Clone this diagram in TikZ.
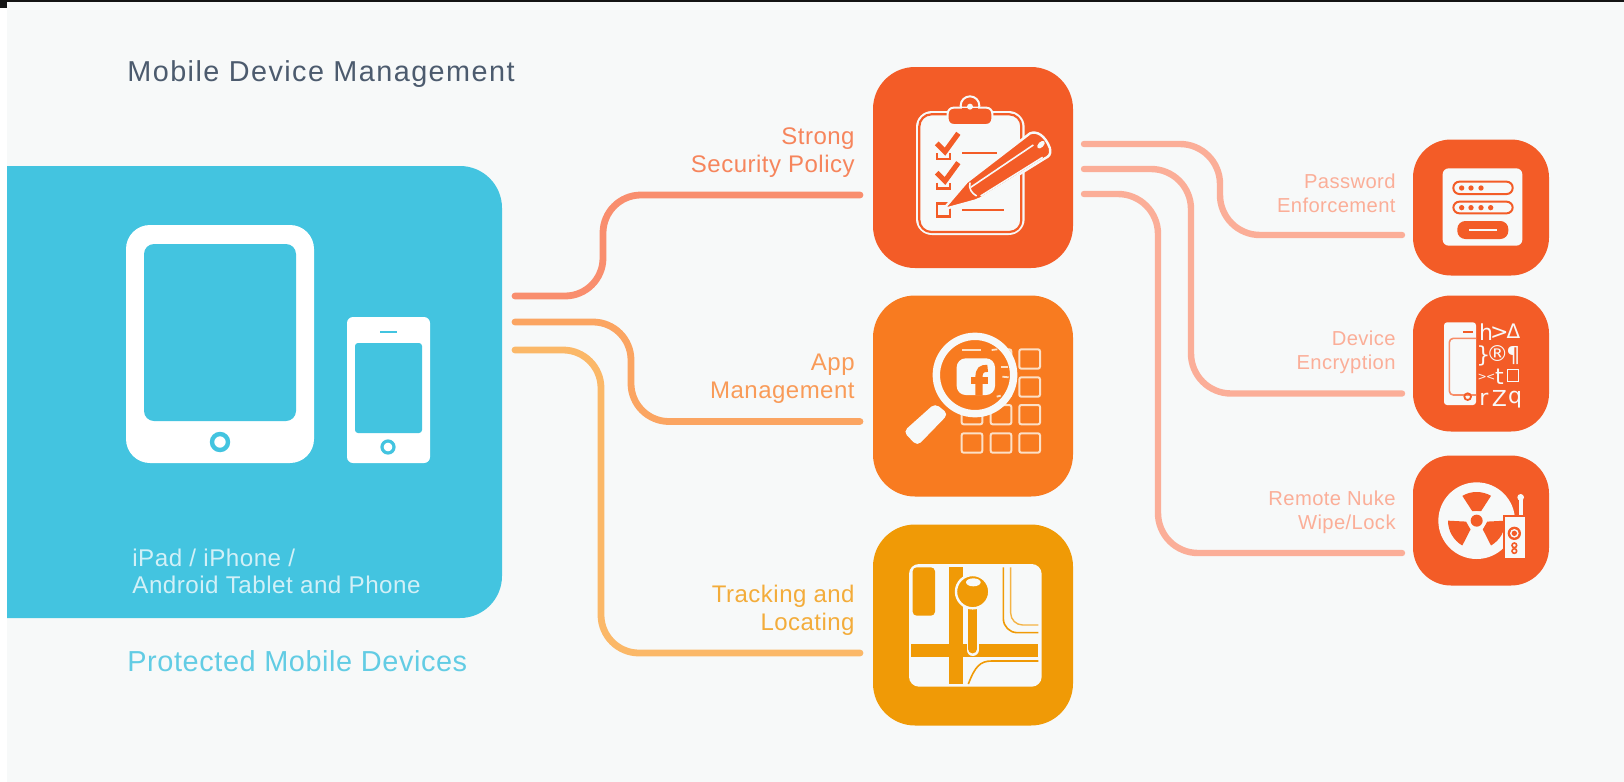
\documentclass[tikz,border=0pt]{standalone}
\usepackage{fontspec}
\setmainfont[LetterSpace=2]{Liberation Sans}
\newfontfamily\titlefont[LetterSpace=5]{Liberation Sans}
\newfontfamily\glyphfont{DejaVu Sans}
\definecolor{bgc}{HTML}{F7F9F9}
\definecolor{bluec}{HTML}{43C4E0}
\definecolor{redc}{HTML}{F35C27}
\definecolor{orgc}{HTML}{F87B20}
\definecolor{yelc}{HTML}{F09A06}
\definecolor{lnA}{HTML}{F98E6E}
\definecolor{lnB}{HTML}{FBA562}
\definecolor{lnC}{HTML}{FBB868}
\definecolor{lnR}{HTML}{FBAE98}
\definecolor{txtA}{HTML}{F6855C}
\definecolor{txtB}{HTML}{F99B58}
\definecolor{txtC}{HTML}{F3AC3A}
\definecolor{titlec}{HTML}{4C5B6E}
\definecolor{protc}{HTML}{62CCE4}
\definecolor{captc}{HTML}{D2F0F7}
\definecolor{gridc}{HTML}{FCE0C6}
\tikzset{
 bigbox/.style={rounded corners=21pt,inner sep=0pt,minimum width=100pt,minimum height=100.5pt,draw=none},
 smallbox/.style={rounded corners=19pt,fill=redc,inner sep=0pt,minimum width=68pt,minimum height=68pt,draw=none},
 wire/.style={line width=3.4pt,rounded corners=19pt,line cap=round},
 wireR/.style={line width=3.2pt,rounded corners=20pt,line cap=round,draw=lnR},
 lblbig/.style={anchor=east,align=right,inner sep=0pt,font=\fontsize{12}{14}\selectfont},
 lblsmall/.style={anchor=east,align=right,inner sep=0pt,text=lnR,font=\fontsize{10.1}{11.9}\selectfont},
 glyph/.style={text=bgc,inner sep=0pt,font=\glyphfont\fontsize{11}{11}\selectfont},
}
\begin{document}
\begin{tikzpicture}[x=0.5pt,y=-0.5pt]
\useasboundingbox (0,0) rectangle (1624,782);
\fill[white] (0,0) rectangle (1624,782);
\fill[bgc] (7,2) rectangle (1624,782);
\fill[black!92] (0,0) rectangle (1624,2);
\fill[black!92] (0,0) rectangle (7,8);

% device panel
\fill[bluec] (7,166) [rounded corners=21pt] -- (502,166) -- (502,618) [sharp corners] -- (7,618) -- cycle;
\fill[white,rounded corners=12pt] (126,225) rectangle (314,463);
\fill[bluec,rounded corners=5pt] (144,244) rectangle (296,421);
\draw[bluec,line width=2.2pt,fill=white] (220,442) circle (8);
\fill[white,rounded corners=3pt] (347,317) rectangle (430,463);
\fill[bluec,rounded corners=1.5pt] (355,343) rectangle (422,433);
\draw[bluec,line width=1pt] (380,332) -- (397,332);
\draw[bluec,line width=1.6pt,fill=white] (388,447) circle (6);

\node[anchor=west,inner sep=0pt,text=titlec,font=\titlefont\fontsize{14.4}{16}\selectfont] (title) at (127,74.5) {Mobile Device Management};
\node[anchor=west,inner sep=0pt,align=left,text=captc,font=\fontsize{12.1}{13.8}\selectfont] (caption) at (132,571.5) {iPad / iPhone /\\Android Tablet and Phone};
\node[anchor=west,inner sep=0pt,text=protc,font=\fontsize{14.45}{16}\selectfont] (protected) at (127,661.5) {Protected Mobile Devices};

% boxes
\node[bigbox,fill=redc] (policy) at (973,167.5) {};
\node[bigbox,fill=orgc] (apps) at (973,396) {};
\node[bigbox,fill=yelc] (track) at (973,625) {};
\node[smallbox] (pwd) at (1481,207.5) {};
\node[smallbox] (enc) at (1481,363.5) {};
\node[smallbox,minimum height=65pt] (nuke) at (1481,520.5) {};

% connector ends
\coordinate (d1) at (515,296);
\coordinate (d2) at (515,322);
\coordinate (d3) at (515,350);
\coordinate (p1) at (860,195);
\coordinate (p2) at (860,421.5);
\coordinate (p3) at (860,653);
\coordinate (s1) at (1084,144);
\coordinate (s2) at (1084,169);
\coordinate (s3) at (1084,194);
\coordinate (e1) at (1402,235);
\coordinate (e2) at (1402,393.5);
\coordinate (e3) at (1402,553);
\draw[wire,draw=lnA] (d1) -- (603,296) -- (603,195) -- (p1);
\draw[wire,draw=lnB] (d2) -- (631,322) -- (631,421.5) -- (p2);
\draw[wire,draw=lnC] (d3) -- (601,350) -- (601,653) -- (p3);
\draw[wireR] (s1) -- (1220,144) -- (1220,235) -- (e1);
\draw[wireR] (s2) -- (1191,169) -- (1191,393.5) -- (e2);
\draw[wireR] (s3) -- (1158,194) -- (1158,553) -- (e3);

% labels
\node[lblbig,text=txtA] (l1) at (855,152.5) {Strong\\Security Policy};
\node[lblbig,text=txtB] (l2) at (855,378.5) {App\\Management};
\node[lblbig,text=txtC] (l3) at (855,610.5) {Tracking and\\Locating};
\node[lblsmall] (r1) at (1396,193.5) {Password\\Enforcement};
\node[lblsmall] (r2) at (1396,352.5) {Device\\Encryption};
\node[lblsmall] (r3) at (1396,512.5) {Remote Nuke\\Wipe/Lock};

% policy icon
\begin{scope}[shift={(860,60)},scale=1/3]
\fill[bgc,rounded corners=8pt] (168,153) rectangle (494,525);
\draw[redc,line width=1.1pt,rounded corners=6pt] (178,163) rectangle (484,516);
\draw[bgc,line width=1pt,fill=redc] (330,137) circle (28);
\draw[bgc,line width=1pt,fill=redc,rounded corners=3pt] (263,143) rectangle (397,195);
\fill[redc] (305,143) rectangle (355,150);
\fill[bgc] (330,140) circle (9);
\foreach \dy in {0,88}{
 \draw[redc,line width=2.6pt] (230,250+\dy) -- (255,275+\dy) -- (295,220+\dy);
 \draw[redc,line width=1.3pt] (231,280+\dy) -- (231,297+\dy) -- (270,297+\dy) -- (270,280+\dy);
}
\draw[redc,line width=1.3pt] (231,430) rectangle (270,470);
\draw[redc,line width=1.1pt] (306,280) -- (410,280);
\draw[redc,line width=1.1pt] (306,450) -- (432,450);
\draw[bgc,line width=1.2pt,fill=redc,line join=round] (250,448) -- (320,366) -- (510,220) .. controls (530,212) and (555,225) .. (570,265) .. controls (574,285) and (565,290) .. (555,295) -- (362,415) -- (345,422) -- cycle;
\draw[bgc,line width=0.8pt] (332,382) -- (520,255);
\draw[bgc,line width=0.8pt] (350,408) .. controls (335,400) and (325,385) .. (330,368);
\draw[bgc,line width=0.8pt] (362,408) -- (548,292);
\fill[bgc,rotate around={45:(543,254)}] (543,254) ellipse (14 and 8);
\end{scope}

% apps icon
\begin{scope}[shift={(860,290)},scale=1/3]
\foreach \xa in {305,392,478}{\foreach \ya in {178,262,345,430}{
 \draw[gridc,line width=1pt,rounded corners=1pt] (\xa,\ya) rectangle +(62,58);
}}
\fill[bgc,rounded corners=2.5pt] (130,425) -- (225,340) -- (265,372) -- (172,468) -- cycle;
\draw[bgc,line width=3.7pt,fill=orgc] (345,255) circle (116);
\draw[gridc,line width=0.9pt] (307,180) -- (362,180);
\draw[gridc,line width=0.9pt] (395,180) -- (412,178);
\draw[gridc,line width=0.9pt] (423,232) -- (445,232);
\draw[gridc,line width=0.9pt] (427,260) -- (446,262);
\draw[gridc,line width=0.9pt] (410,320) -- (422,317);
\fill[bgc,rounded corners=4.5pt] (290,205) rectangle (405,315);
\draw[orgc,line width=3.6pt] (357,316) -- (357,262) .. controls (357,240) and (365,235) .. (383,235);
\fill[orgc] (332,262) rectangle (383,282);
\end{scope}

% track icon
\begin{scope}[shift={(860,520)},scale=1/3]
\fill[bgc,rounded corners=5pt] (147,132) rectangle (545,500);
\fill[yelc,rounded corners=2pt] (158,142) rectangle (225,287);
\fill[yelc] (268,142) rectangle (310,492);
\fill[yelc] (153,373) rectangle (535,412);
\draw[yelc,line width=0.8pt,rounded corners=7pt] (430,142) -- (430,338) -- (535,338);
\draw[yelc!75!white,line width=0.7pt,rounded corners=6pt] (452,142) -- (452,315) -- (535,315);
\draw[yelc,line width=0.8pt] (325,492) .. controls (345,440) and (360,423) .. (395,423) -- (535,423);
\draw[bgc,line width=6pt,line cap=round] (338,240) -- (338,390);
\draw[yelc,line width=4.4pt,line cap=round] (338,250) -- (338,387);
\draw[bgc,line width=1.2pt,fill=yelc] (338,215) circle (50);
\fill[bgc] (340,187) ellipse (22 and 12);
\end{scope}

% password icon
\begin{scope}[shift={(1400,130)},scale=1/3]
\fill[bgc,rounded corners=3pt] (128,115) rectangle (367,347);
\draw[redc,line width=1pt,rounded corners=3pt] (160,155) rectangle (338,192);
\draw[redc,line width=1pt,rounded corners=3pt] (160,215) rectangle (338,250);
\foreach \xd in {185,213,243}{\fill[redc] (\xd,174) circle (8);}
\foreach \xd in {185,213,243,272}{\fill[redc] (\xd,233) circle (8);}
\fill[redc,rounded corners=4pt] (172,273) rectangle (325,327);
\draw[bgc,line width=1.1pt] (208,299) -- (292,299);
\end{scope}

% encryption icon
\begin{scope}[shift={(1400,290)},scale=1/3]
\fill[bgc,rounded corners=1.5pt] (132,97) rectangle (228,345);
\draw[redc!70!white,line width=0.8pt,rounded corners=2pt] (228,145) -- (148,145) -- (148,315) -- (228,315);
\draw[redc,line width=0.9pt] (190,127) -- (218,127);
\draw[redc,line width=0.9pt] (203,320) circle (10);
\node[glyph] (g1) at (258,126) {h};
\node[glyph] (g2) at (298,128) {>};
\node[glyph] (g3) at (340,124) {\fontsize{10}{10}\selectfont Δ};
\node[glyph] (g4) at (250,197) {\}};
\node[glyph] (g5) at (292,190) {®};
\node[glyph] (g6) at (340,197) {¶};
\node[glyph] (g7) at (247,263) {\fontsize{5.5}{6}\selectfont >};
\node[glyph] (g8) at (272,263) {\fontsize{5.5}{6}\selectfont <};
\node[glyph] (g9) at (298,260) {t};
\draw[bgc,line width=0.8pt] (323,238) rectangle (356,275);
\node[glyph] (g10) at (252,327) {r};
\node[glyph] (g11) at (298,325) {Z};
\node[glyph] (g12) at (345,330) {q};
\end{scope}

% nuke icon
\begin{scope}[shift={(1400,450)},scale=1/3]
\fill[bgc] (230,212) circle (115);
\foreach \ang in {90,210,330}{
 \begin{scope}[shift={(230,212)}]
 \fill[redc] ({-\ang-30}:86) arc ({-\ang-30}:{-\ang+30}:86) -- ({-\ang+25}:32) -- ({-\ang-25}:32) -- cycle;
 \end{scope}
}
\fill[bgc] (230,212) circle (28);
\fill[redc] (230,212) circle (18);
\draw[bgc,line width=2pt,line cap=round] (362,145) -- (362,197);
\fill[bgc] (362,142) circle (10);
\draw[redc,line width=1pt,fill=bgc] (312,197) rectangle (378,327);
\fill[redc] (343,250) circle (20);
\fill[bgc] (343,250) circle (13);
\fill[redc] (343,250) circle (8);
\draw[redc,line width=0.8pt] (343,286) circle (7);
\draw[redc,line width=0.8pt] (343,303) circle (7);
\end{scope}
\end{tikzpicture}
\end{document}
